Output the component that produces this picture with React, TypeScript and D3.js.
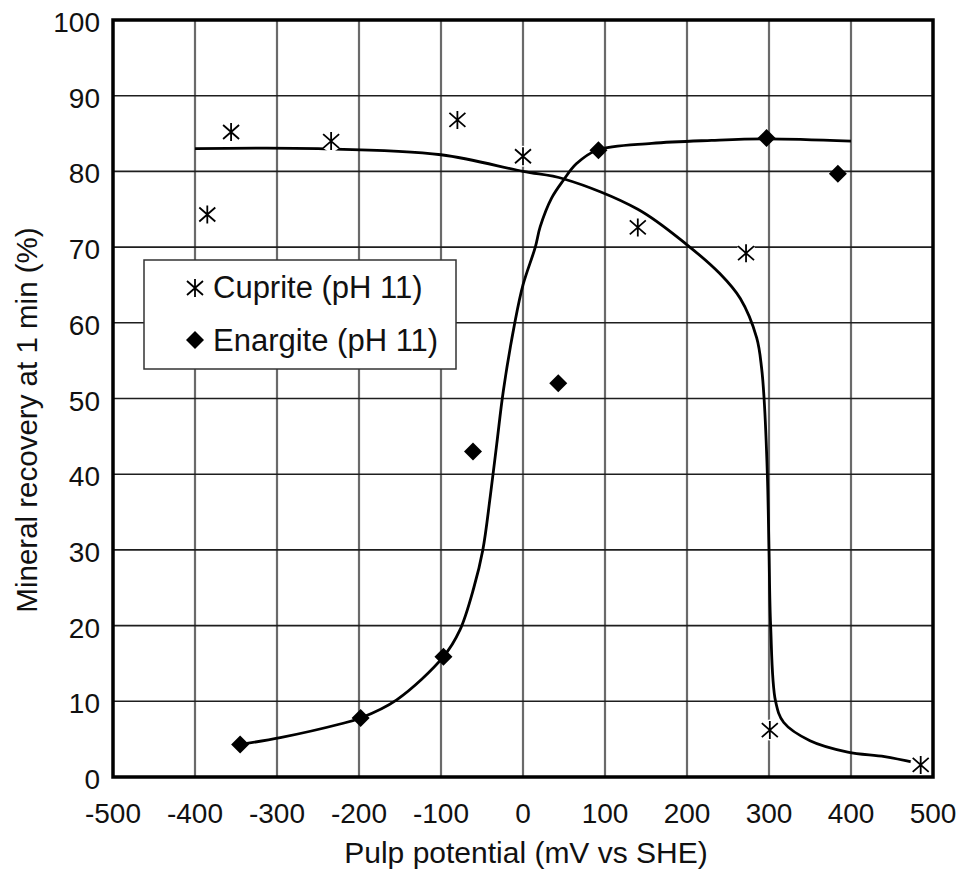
import React from "react";
import * as d3 from "d3";

// Measured data points
const cupriteX = [-385, -356, -234, -80, 0, 140, 272, 301, 485];
const cupriteY = [74.3, 85.2, 84.0, 86.8, 82.0, 72.6, 69.2, 6.2, 1.6];

const enargiteX = [-345, -198, -97, -61, 43, 92, 297, 384];
const enargiteY = [4.3, 7.8, 15.9, 43.0, 52.0, 82.8, 84.4, 79.7];

// Hand-drawn trend curves
const cupriteFitX = [-400, -250, -100, 0, 50, 140, 200, 240, 265, 285, 291, 294, 298, 300, 302, 308, 318, 350, 396, 441, 478];
const cupriteFitY = [83, 83, 82.2, 80, 79, 75, 70.3, 66.5, 63.2, 58, 54, 50, 40, 30, 20, 10, 7.2, 4.8, 3.3, 2.7, 1.9];

const enargiteFitX = [-345, -296, -223, -198, -154, -97, -77, -60, -49, -40, -32, -24, -10, 0, 15, 21, 35, 49, 65, 90, 157, 230, 297, 400];
const enargiteFitY = [4.3, 5.2, 7.0, 7.8, 10.2, 15.9, 19.4, 25, 30, 37, 44, 51, 60, 65, 70, 72.7, 76.5, 78.8, 81, 82.8, 83.7, 84.1, 84.3, 84.0];

const xTicks = [-500, -400, -300, -200, -100, 0, 100, 200, 300, 400, 500];
const yTicks = [0, 10, 20, 30, 40, 50, 60, 70, 80, 90, 100];

const legendLabels = ["Cuprite (pH 11)", "Enargite (pH 11)"];
const xTitle = "Pulp potential (mV vs SHE)";
const yTitle = "Mineral recovery at 1 min (%)";

const W = 961;
const H = 876;
const FONT = "'Liberation Sans', Arial, Helvetica, sans-serif";

const ASTERISK = "M0,-9V9M-8,-7L8,7M-8,7L8,-7";
const DIAMOND = "M0,-9L9,0L0,9L-9,0Z";

export default function App() {
  const x = d3.scaleLinear().domain([-500, 500]).range([113, 933]);
  const y = d3.scaleLinear().domain([0, 100]).range([777, 20]);

  const line = d3
    .line<[number, number]>()
    .x((d) => x(d[0]))
    .y((d) => y(d[1]))
    .curve(d3.curveCatmullRom.alpha(0.5));

  const cupriteFit = cupriteFitX.map((v, i) => [v, cupriteFitY[i]] as [number, number]);
  const enargiteFit = enargiteFitX.map((v, i) => [v, enargiteFitY[i]] as [number, number]);

  const [x0, x1] = x.range();
  const [y0, y1] = y.range();

  return (
    <div style={{ position: "absolute", left: 0, top: 0 }}>
      <svg width={W} height={H} style={{ display: "block", background: "#fff" }}>
        <rect x={0} y={0} width={W} height={H} fill="#fff" />
        {/* vertical grid */}
        {xTicks.slice(1, -1).map((t) => (
          <line key={"vx" + t} x1={x(t)} x2={x(t)} y1={y1} y2={y0} stroke="#6a6a6a" strokeWidth={2.2} />
        ))}
        {/* horizontal grid */}
        {yTicks.slice(1, -1).map((t) => (
          <line key={"hy" + t} x1={x0} x2={x1} y1={y(t)} y2={y(t)} stroke="#1e1e1e" strokeWidth={1.6} />
        ))}
        {/* curves */}
        <path d={line(cupriteFit) || ""} fill="none" stroke="#000" strokeWidth={2.8} />
        <path d={line(enargiteFit) || ""} fill="none" stroke="#000" strokeWidth={2.8} />
        {/* asterisk halos */}
        {cupriteX.map((v, i) => (
          <circle key={"h" + i} cx={x(v)} cy={y(cupriteY[i])} r={10.5} fill="#fff" />
        ))}
        {/* cuprite markers */}
        {cupriteX.map((v, i) => (
          <path
            key={"c" + i}
            d={ASTERISK}
            transform={`translate(${x(v)},${y(cupriteY[i])})`}
            stroke="#000"
            strokeWidth={1.8}
            fill="none"
          />
        ))}
        {/* enargite markers */}
        {enargiteX.map((v, i) => (
          <path key={"e" + i} d={DIAMOND} transform={`translate(${x(v)},${y(enargiteY[i])})`} fill="#000" />
        ))}
        {/* legend */}
        <rect x={144} y={260} width={312} height={109} fill="#fff" stroke="#333" strokeWidth={1.5} />
        <path d={ASTERISK} transform="translate(195,288)" stroke="#000" strokeWidth={1.8} fill="none" />
        <text x={213} y={298} fontFamily={FONT} fontSize={31} fill="#111">
          {legendLabels[0]}
        </text>
        <path d={DIAMOND} transform="translate(195,340)" fill="#000" />
        <text x={213} y={351} fontFamily={FONT} fontSize={31} fill="#111">
          {legendLabels[1]}
        </text>
        {/* frame */}
        <rect x={x0} y={y1} width={x1 - x0} height={y0 - y1} fill="none" stroke="#000" strokeWidth={3.5} />
        {/* y tick labels */}
        {yTicks.map((t) => (
          <text key={"yl" + t} x={100} y={y(t) + 12} textAnchor="end" fontFamily={FONT} fontSize={28} fill="#111">
            {t}
          </text>
        ))}
        {/* x tick labels */}
        {xTicks.map((t) => (
          <text key={"xl" + t} x={x(t)} y={823} textAnchor="middle" fontFamily={FONT} fontSize={28} fill="#111">
            {t}
          </text>
        ))}
        <text x={526} y={863} textAnchor="middle" fontFamily={FONT} fontSize={30} fill="#111">
          {xTitle}
        </text>
        <text
          transform={`translate(37,420) rotate(-90)`}
          textAnchor="middle"
          fontFamily={FONT}
          fontSize={29.5}
          fill="#111"
        >
          {yTitle}
        </text>
      </svg>
    </div>
  );
}
